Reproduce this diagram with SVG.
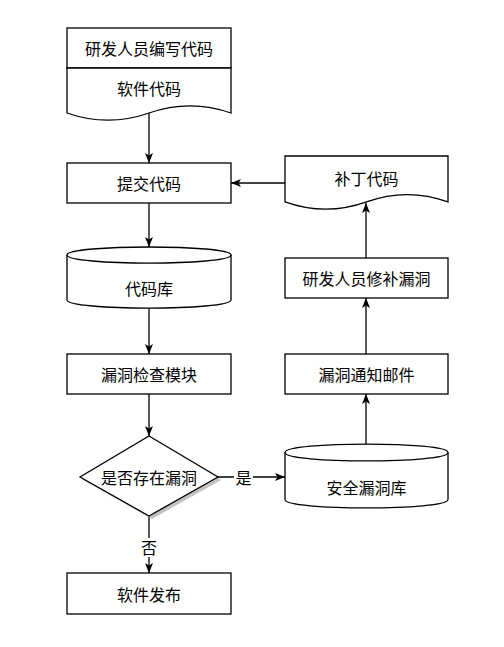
<svg xmlns="http://www.w3.org/2000/svg" width="504" height="647" viewBox="0 0 504 647">
<defs>
<style>
.s{fill:#fff;stroke:#000;stroke-width:1.3}
.t{font-family:"Noto Sans CJK SC","Noto Sans",sans-serif;font-size:16px;fill:#000;text-anchor:middle;dominant-baseline:central}
.c{fill:none;stroke:#000;stroke-width:1.3}
.lb{font-family:"Noto Sans CJK SC","Noto Sans",sans-serif;font-size:16px;fill:#000;text-anchor:middle;dominant-baseline:central}
</style>
<marker id="ah" viewBox="0 0 10 8" markerWidth="10" markerHeight="8" refX="10" refY="4" orient="auto" markerUnits="userSpaceOnUse">
<path d="M0,0 L10,4 L0,8 L2.5,4 Z" fill="#000"/>
</marker>
</defs>
<rect width="504" height="647" fill="#fff"/>
<g id="connectors">
<line class="c" x1="149" y1="113" x2="149" y2="163" marker-end="url(#ah)"/>
<line class="c" x1="149" y1="203" x2="149" y2="247" marker-end="url(#ah)"/>
<line class="c" x1="149" y1="308" x2="149" y2="354" marker-end="url(#ah)"/>
<line class="c" x1="149" y1="394" x2="149" y2="436" marker-end="url(#ah)"/>
<line class="c" x1="217" y1="477" x2="285" y2="477" marker-end="url(#ah)"/>
<rect x="234" y="468" width="19" height="18" fill="#fff"/>
<text class="lb" x="243.5" y="477">是</text>
<line class="c" x1="149" y1="516" x2="149" y2="573" marker-end="url(#ah)"/>
<rect x="140" y="538" width="18" height="19" fill="#fff"/>
<text class="lb" x="149" y="547">否</text>
<line class="c" x1="366" y1="444" x2="366" y2="394" marker-end="url(#ah)"/>
<line class="c" x1="366" y1="354" x2="366" y2="298" marker-end="url(#ah)"/>
<line class="c" x1="366" y1="258" x2="366" y2="203" marker-end="url(#ah)"/>
<line class="c" x1="285" y1="183" x2="231" y2="183" marker-end="url(#ah)"/>
</g>
<g id="dev-write">
<rect class="s" x="67" y="28" width="164" height="40"/>
<text class="t" x="149" y="48">研发人员编写代码</text>
</g>
<g id="software-code">
<path class="s" d="M67,68 H231 V113 Q190,98.7 149,113 Q108,127.4 67,113 Z"/>
<text class="t" x="149" y="88">软件代码</text>
</g>
<g id="commit-code">
<rect class="s" x="67" y="163" width="164" height="40"/>
<text class="t" x="149" y="183">提交代码</text>
</g>
<g id="code-repo">
<path class="s" d="M67,255 C67,244.3 231,244.3 231,255 V300 C231,310.7 67,310.7 67,300 Z"/>
<path class="c" d="M67,255 C67,265.7 231,265.7 231,255"/>
<text class="t" x="149" y="288">代码库</text>
</g>
<g id="vuln-check">
<rect class="s" x="67" y="354" width="164" height="40"/>
<text class="t" x="149" y="374">漏洞检查模块</text>
</g>
<g id="has-vuln">
<polygon points="152,439 221,480 152,519 83,480" fill="#999" opacity="0.6"/>
<polygon class="s" points="149,436 218,477 149,516 80,477"/>
<text class="t" x="149" y="477">是否存在漏洞</text>
</g>
<g id="release">
<rect class="s" x="67" y="573" width="164" height="41"/>
<text class="t" x="149" y="594">软件发布</text>
</g>
<g id="vuln-db">
<path class="s" d="M285,452.5 C285,441.2 448,441.2 448,452.5 V499.5 C448,510.8 285,510.8 285,499.5 Z"/>
<path class="c" d="M285,452.5 C285,463.8 448,463.8 448,452.5"/>
<text class="t" x="366.5" y="487">安全漏洞库</text>
</g>
<g id="vuln-mail">
<rect class="s" x="285" y="354" width="163" height="40"/>
<text class="t" x="366.5" y="374">漏洞通知邮件</text>
</g>
<g id="dev-fix">
<rect class="s" x="285" y="258" width="163" height="40"/>
<text class="t" x="366.5" y="278">研发人员修补漏洞</text>
</g>
<g id="patch-code">
<path class="s" d="M285,156 H448 V201.9 Q407.25,187.3 366.5,201.9 Q325.75,216.5 285,201.9 Z"/>
<text class="t" x="366.5" y="178">补丁代码</text>
</g>
</svg>
